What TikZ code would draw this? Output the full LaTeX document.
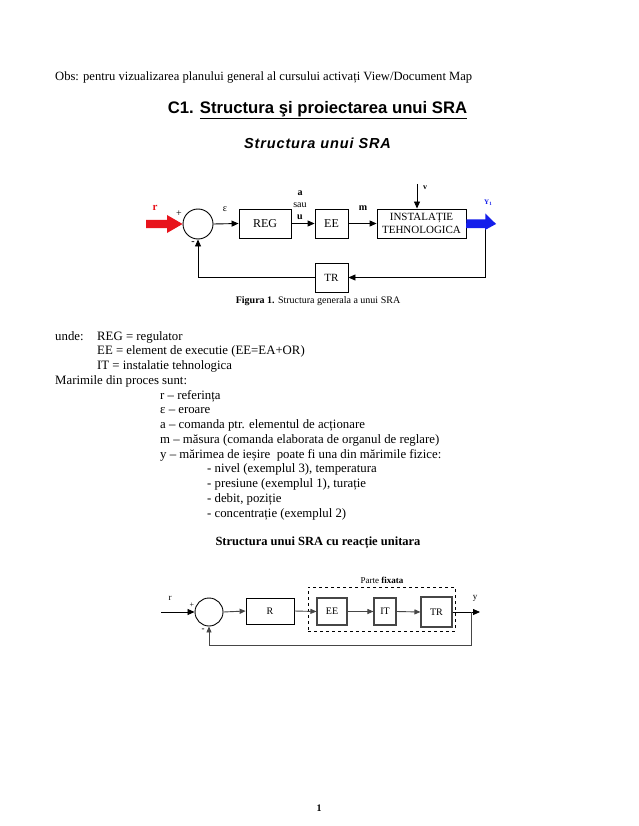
\documentclass[tikz,border=0pt]{standalone}
\usepackage{fontspec}
\setmainfont{Liberation Serif}
\newfontfamily\arialfont{Liberation Sans}
\newfontfamily\arialsp[LetterSpace=6]{Liberation Sans}
\usetikzlibrary{arrows.meta}
\definecolor{refred}{RGB}{232,20,28}
\definecolor{refblue}{RGB}{20,30,235}
\definecolor{linegray}{RGB}{70,70,70}
\begin{document}
\begin{tikzpicture}[x=1pt,y=-1pt,
  txt/.style={anchor=base west, inner sep=0pt, font=\fontsize{12.8}{15}\selectfont},
  blk/.style={draw, line width=0.9pt, inner sep=0pt, font=\fontsize{12}{14}\selectfont, align=center},
  sblk/.style={draw=linegray, line width=1.1pt, inner sep=0pt, font=\fontsize{10}{12}\selectfont},
  sumc/.style={draw, circle, line width=0.9pt, inner sep=0pt},
  sig/.style={line width=0.9pt, -{Triangle[length=7pt,width=6pt]}},
  ssig/.style={draw=linegray, line width=0.9pt, -{Triangle[length=6pt,width=5pt]}},
  wire/.style={line width=0.9pt},
  lbl/.style={inner sep=0pt, font=\fontsize{10}{12}\selectfont},
  ]
\useasboundingbox (0,0) rectangle (638,826);
\fill[white] (0,0) rectangle (638,826);

% ---- header ----
\node[txt, font=\fontsize{12.6}{15}\selectfont] (obs) at (55,81) {Obs: pentru vizualizarea planului general al cursului activați View/Document Map};
\node[inner sep=0pt, font=\arialfont\bfseries\fontsize{16.7}{19}\selectfont] (title) at (317.5,110) {C1. \underline{Structura şi proiectarea unui SRA}};
\node[inner sep=0pt, font=\arialsp\bfseries\itshape\fontsize{14.5}{17}\selectfont] (sub) at (317.5,143) {Structura unui SRA};

% ---- figure 1 ----
\node[sumc, minimum size=30] (sum) at (198,224) {};
\node[blk, minimum width=52, minimum height=29] (reg) at (265,223.5) {REG};
\node[blk, minimum width=33, minimum height=29] (ee) at (331.5,223.5) {EE};
\node[blk, minimum width=89, minimum height=29, font=\fontsize{11}{12.5}\selectfont] (inst) at (421.5,223.5) {INSTALAȚIE\\TEHNOLOGICA};
\node[blk, minimum width=33, minimum height=29, font=\fontsize{11}{13}\selectfont] (tr) at (331.5,277.5) {TR};

\draw[sig] (sum.east) -- (reg.west);
\draw[sig] (reg.east) -- (ee.west);
\draw[sig] (ee.east) -- (inst.west);
\coordinate (vtop) at (417,184);
\draw[sig] (vtop) -- (vtop |- inst.north);
\coordinate (fbr) at (485,224);
\draw[sig] (fbr) |- (tr.east);
\draw[sig] (tr.west) -| (sum.south);

% thick red input arrow
\coordinate (rin) at (146,224);
\fill[refred] (rin) ++(0,-4) -- ++(21,0) -- ++(0,-5) -- (sum.west) -- (167,233) -- ++(0,-5) -- (146,228) -- cycle;
% thick blue output arrow
\fill[refblue] (inst.east) ++(0,-4) -- ++(19,0) -- ++(0,-6) -- (496,224) -- (485,230) -- ++(0,-2) -- (466,228) -- cycle;

\node[lbl, text=refred, font=\bfseries\fontsize{11}{12}\selectfont] (rl) at (155,208) {r};
\node[lbl] (plus1) at (179,214) {+};
\node[lbl, font=\bfseries\fontsize{10}{12}\selectfont] (minus1) at (193,243) {-};
\node[lbl] (eps1) at (225,209) {ε};
\node[lbl, font=\bfseries\fontsize{10}{12}\selectfont] (al) at (300,193) {a};
\node[lbl] (saul) at (300,205) {sau};
\node[lbl, font=\bfseries\fontsize{10}{12}\selectfont] (ul) at (300,217) {u};
\node[lbl, font=\bfseries\fontsize{10}{12}\selectfont] (ml) at (363,208) {m};
\node[lbl, font=\bfseries\fontsize{8}{10}\selectfont] (vl) at (425,188) {v};
\node[lbl, text=refblue, font=\bfseries\fontsize{7}{8}\selectfont] (yl) at (488,203) {Y\raisebox{-1pt}{\fontsize{5}{6}\selectfont 1}};
\node[lbl] (cap1) at (318,301) {\textbf{Figura 1.} Structura generala a unui SRA};

% ---- text block ----
\node[txt] (unde) at (55,340) {unde:};
\node[txt] (t1) at (97,340) {REG = regulator};
\node[txt] (t2) at (97,354.75) {EE = element de executie (EE=EA+OR)};
\node[txt] (t3) at (97,369.5) {IT = instalatie tehnologica};
\node[txt] (t4) at (55,384.25) {Marimile din proces sunt:};
\node[txt] (t5) at (160,399) {r – referința};
\node[txt] (t6) at (160,413.75) {ε – eroare};
\node[txt] (t7) at (160,428.5) {a – comanda ptr. elementul de acționare};
\node[txt] (t8) at (160,443.25) {m – măsura (comanda elaborata de organul de reglare)};
\node[txt] (t9) at (160,458) {y – mărimea de ieșire~ poate fi una din mărimile fizice:};
\node[txt] (t10) at (207,472.75) {- nivel (exemplul 3), temperatura};
\node[txt] (t11) at (207,487.5) {- presiune (exemplul 1), turație};
\node[txt] (t12) at (207,502.25) {- debit, poziție};
\node[txt] (t13) at (207,517) {- concentrație (exemplul 2)};

\node[inner sep=0pt, font=\bfseries\fontsize{12.5}{15}\selectfont] (sub2) at (318,543) {Structura unui SRA cu reacție unitara};

% ---- figure 2 ----
\node[sumc, minimum size=28] (sum2) at (209,612) {};
\node[draw, line width=0.8pt, inner sep=0pt, minimum width=48, minimum height=26, font=\fontsize{10}{12}\selectfont] (rb) at (270,611) {R};
\node[draw, dashed, line width=0.8pt, minimum width=147, minimum height=44, inner sep=0pt] (parte) at (381.5,609) {};
\node[sblk, minimum width=30, minimum height=27] (ee2) at (332,611.5) {EE};
\node[sblk, minimum width=22, minimum height=27] (it2) at (385,611.5) {IT};
\node[sblk, minimum width=31, minimum height=30] (tr2) at (436.5,612) {TR};
\node[lbl, font=\fontsize{9}{11}\selectfont] (pf) at (382,580) {Parte \textbf{fixata}};

\coordinate (rin2) at (161,612);
\draw[sig, line width=0.8pt] (rin2) -- (sum2.west);
\draw[ssig] (sum2.east) -- (rb.west);
\draw[ssig] (rb.east) -- (ee2.west);
\draw[ssig] (ee2.east) -- (it2.west);
\draw[ssig] (it2.east) -- (tr2.west);
\coordinate (yout) at (480,612);
\coordinate (br2) at (471,612);
\draw[sig, line width=0.8pt] (tr2.east) -- (yout);
\draw[ssig] (br2) -- (471,645) -| (sum2.south);

\node[lbl, font=\fontsize{9}{11}\selectfont] (r2l) at (170,598) {r};
\node[lbl, font=\fontsize{9}{11}\selectfont] (y2l) at (475,598) {y};
\node[lbl, font=\fontsize{8}{10}\selectfont] (plus2) at (192,605) {+};
\node[lbl, font=\bfseries\fontsize{9}{10}\selectfont] (minus2) at (203,630) {-};

\node[inner sep=0pt, font=\bfseries\fontsize{10}{12}\selectfont] (pg) at (319,808) {1};
\end{tikzpicture}
\end{document}
